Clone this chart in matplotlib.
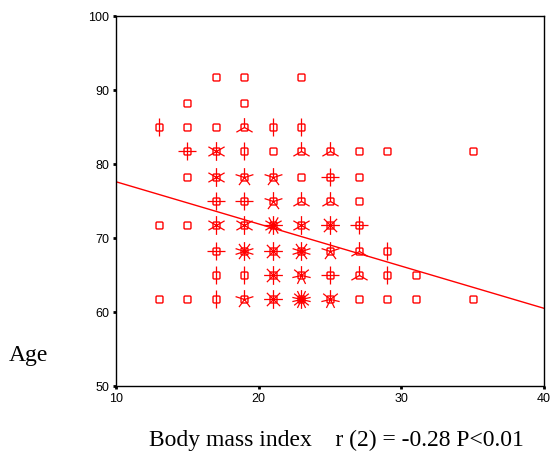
import numpy as np
import matplotlib
matplotlib.use("Agg")
import matplotlib.pyplot as plt
from matplotlib.path import Path

# sunflower plot data: BMI bin, age bin, number of cases (petals)
bmi = [17, 19, 23,
       15, 19,
       13, 15, 17, 19, 21, 23,
       15, 17, 19, 21, 23, 25, 27, 29, 35,
       15, 17, 19, 21, 23, 25, 27,
       17, 19, 21, 23, 25, 27,
       13, 15, 17, 19, 21, 23, 25, 27,
       17, 19, 21, 23, 25, 27, 29,
       17, 19, 21, 23, 25, 27, 29, 31,
       13, 15, 17, 19, 21, 23, 25, 27, 29, 31, 35]
age = [91.7] * 3 + [88.3] * 2 + [85.0] * 6 + [81.7] * 9 + [78.3] * 7 + \
      [75.0] * 6 + [71.7] * 8 + [68.3] * 7 + [65.0] * 8 + [61.7] * 11
cases = [1, 1, 1,
         1, 1,
         2, 1, 1, 3, 2, 2,
         4, 6, 2, 1, 3, 3, 1, 1, 1,
         1, 6, 5, 5, 1, 4, 1,
         4, 4, 5, 3, 3, 1,
         1, 1, 6, 6, 12, 6, 8, 4,
         4, 10, 8, 10, 5, 3, 2,
         2, 2, 8, 7, 4, 3, 2, 1,
         1, 1, 2, 5, 8, 14, 7, 1, 1, 1, 1]

# fit line  age = a + b * bmi
fit_a = 83.3
fit_b = -0.57

x_ticks = [10, 20, 30, 40]
y_ticks = [50, 60, 70, 80, 90, 100]

red = "#ff0000"


def petals(n):
    verts, codes = [], []
    for k in range(n):
        ang = np.pi / 2 + 2 * np.pi * k / n
        verts += [(0, 0), (np.cos(ang), np.sin(ang))]
        codes += [Path.MOVETO, Path.LINETO]
    # pad so the marker keeps the same scale for every n
    verts += [(-1, -1), (-1, -1), (1, 1), (1, 1)]
    codes += [Path.MOVETO, Path.LINETO, Path.MOVETO, Path.LINETO]
    return Path(verts, codes)


# small square with rounded corners
r = 0.3
box = Path([(-1 + r, -1), (1 - r, -1), (1, -1), (1, -1 + r), (1, 1 - r), (1, 1),
            (1 - r, 1), (-1 + r, 1), (-1, 1), (-1, 1 - r), (-1, -1 + r), (-1, -1),
            (-1 + r, -1), (-1 + r, -1)],
           [Path.MOVETO, Path.LINETO, Path.CURVE3, Path.CURVE3, Path.LINETO, Path.CURVE3,
            Path.CURVE3, Path.LINETO, Path.CURVE3, Path.CURVE3, Path.LINETO, Path.CURVE3,
            Path.CURVE3, Path.CLOSEPOLY])

fig = plt.figure(figsize=(5.53, 4.68), dpi=100)
ax = fig.add_axes([0.2098, 0.1752, 0.7739, 0.7906])

ax.plot(bmi, age, ls="none", marker=box, ms=5.0, mfc="none", mec=red, mew=1.0)
for x, y, n in zip(bmi, age, cases):
    if n > 1:
        ax.plot([x], [y], ls="none", marker=petals(n), ms=13.5, mec=red, mew=0.9)

xs = np.array([10, 40])
ax.plot(xs, fit_a + fit_b * xs, color=red, lw=1.0)

ax.set_xlim(10, 40)
ax.set_ylim(50, 100)
ax.set_xticks(x_ticks)
ax.set_yticks(y_ticks)
ax.tick_params(direction="out", length=2, width=2, labelsize=9, pad=3, colors="black")
for lab in ax.get_xticklabels() + ax.get_yticklabels():
    lab.set_family("Liberation Sans")
for s in ax.spines.values():
    s.set_linewidth(1.0)

fig.text(0.052, 0.241, "Age", family="Liberation Serif", fontsize=17,
         ha="center", va="center")
fig.text(0.609, 0.06, "Body mass index    r (2) = -0.28 P<0.01",
         family="Liberation Serif", fontsize=17, ha="center", va="center")

fig.savefig("out.png", dpi=100)
